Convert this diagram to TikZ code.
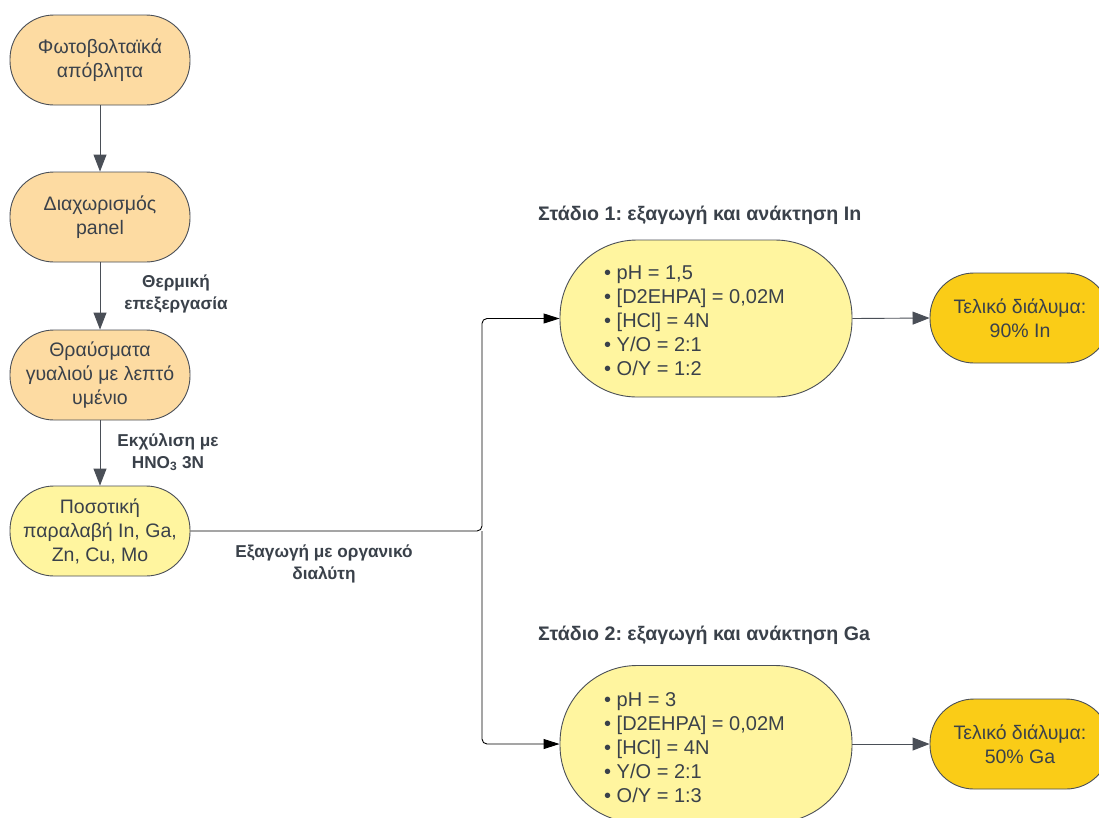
\documentclass[tikz,border=0pt]{standalone}
\usepackage{fontspec}
\setmainfont{Liberation Sans}
\usetikzlibrary{arrows.meta}
\frenchspacing
\definecolor{orfill}{HTML}{FDDBA2}
\definecolor{yefill}{HTML}{FFF59F}
\definecolor{gofill}{HTML}{FACC17}
\definecolor{txt}{HTML}{3A414A}
\definecolor{edge}{HTML}{4A4F57}
\tikzset{
  x=1pt, y=-1pt,
  proc/.style={draw=edge, line width=0.9pt, rounded corners=44pt, minimum width=180pt, minimum height=90pt,
    align=center, text=txt, font=\fontsize{19.5}{24}\selectfont, inner sep=2pt},
  stagebox/.style={draw=edge, line width=0.9pt, rounded corners=77pt, minimum width=292pt, minimum height=157pt,
    fill=yefill, text=txt},
  listtxt/.style={text=txt, font=\fontsize{20}{24}\selectfont, align=left, anchor=north west, inner sep=0pt},
  lbl/.style={text=txt, font=\bfseries\fontsize{17.2}{22}\selectfont, align=center},
  ttl/.style={text=txt, font=\bfseries\fontsize{19.6}{22}\selectfont, anchor=west, inner sep=0pt},
  varrow/.style={draw=edge, line width=0.9pt, -{Triangle[length=17pt,width=13pt]}},
  conn/.style={draw=black, line width=0.9pt, rounded corners=5pt, -{Triangle[length=16pt,width=10pt]}},
  garrow/.style={draw=edge, line width=0.9pt, -{Triangle[length=17pt,width=13pt]}}
}
\begin{document}
\begin{tikzpicture}
\useasboundingbox[fill=white] (0,0) rectangle (1099,817);
\node[proc, fill=orfill] (A) at (100,60) {Φωτοβολταϊκά\\απόβλητα};
\node[proc, fill=orfill] (B) at (100,217) {Διαχωρισμός\\panel};
\node[proc, fill=orfill] (C) at (100,375) {Θραύσματα\\γυαλιού με λεπτό\\υμένιο};
\node[proc, fill=yefill] (D) at (100,531) {Ποσοτική\\παραλαβή In, Ga,\\Zn, Cu, Mo};

\node[stagebox] (S1) at (706,318.5) {};
\node[listtxt] (L1) at (604,266) {• pH = 1,5\\• [D2EHPA] = 0,02M\\• [HCl] = 4N\\• Y/O = 2:1\\• O/Y = 1:2};
\node[stagebox] (S2) at (706,744) {};
\node[listtxt] (L2) at (604,692) {• pH = 3\\• [D2EHPA] = 0,02M\\• [HCl] = 4N\\• Y/O = 2:1\\• O/Y = 1:3};

\node[proc, fill=gofill] (F1) at (1020,318) {Τελικό διάλυμα:\\90\% In};
\node[proc, fill=gofill] (F2) at (1020,744) {Τελικό διάλυμα:\\50\% Ga};

\node[ttl] (T1) at (538,215) {Στάδιο 1: εξαγωγή και ανάκτηση In};
\node[ttl] (T2) at (538,635) {Στάδιο 2: εξαγωγή και ανάκτηση Ga};

\node[lbl] (l1) at (176,294) {Θερμική\\επεξεργασία};
\node[lbl] (l2) at (168,452) {Εκχύλιση με\\HNO\textsubscript{3} 3N};
\node[lbl] (l3) at (324,564) {Εξαγωγή με οργανικό\\διαλύτη};

\draw[varrow] (A) -- (B);
\draw[varrow] (B) -- (C);
\draw[varrow] (C) -- (D);

\coordinate (j) at (482,531);
\draw[conn] (D.east) -- (j) |- (S1.west);
\draw[conn] (j) |- (S2.west);

\draw[garrow] (S1.east) -- (F1.west);
\draw[garrow] (S2.east) -- (F2.west);
\end{tikzpicture}
\end{document}
